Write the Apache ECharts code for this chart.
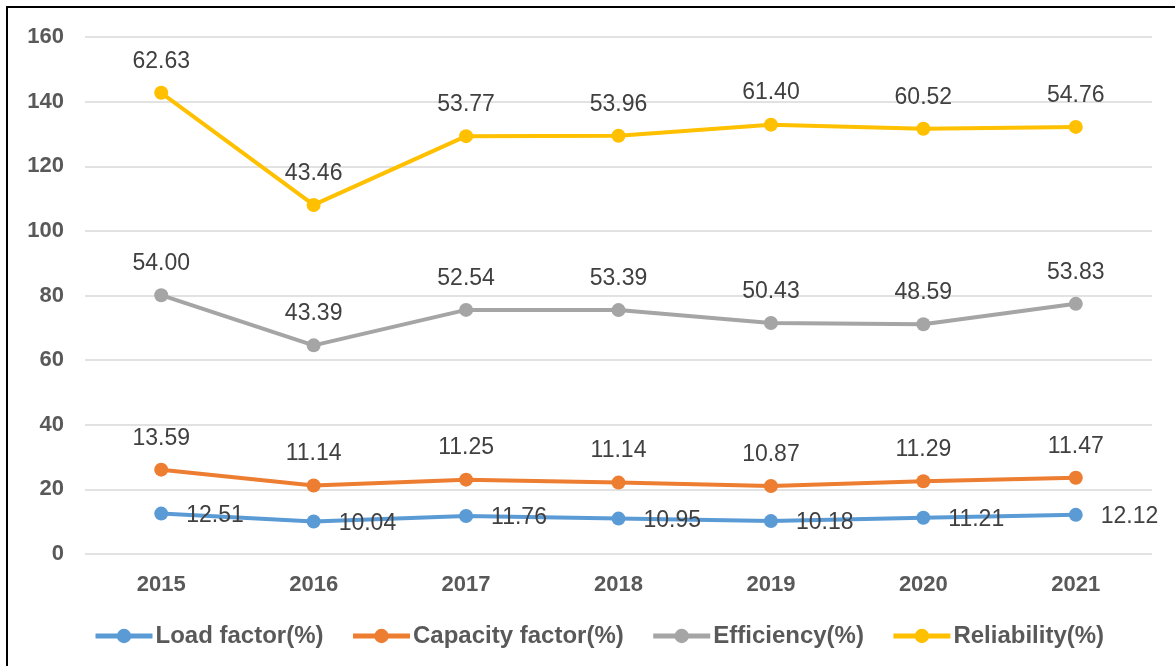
<!DOCTYPE html>
<html>
<head>
<meta charset="utf-8">
<script src="https://cdn.jsdelivr.net/npm/echarts@6/dist/echarts.min.js"></script>
<style>
html,body{margin:0;padding:0;background:#fff;}
#frame{position:absolute;left:6px;top:6px;width:1169px;height:660px;border-top:2px solid #000;border-left:2px solid #000;box-sizing:border-box;}
#chart{position:absolute;left:0;top:0;width:1175px;height:666px;}
</style>
</head>
<body>
<div id="chart"></div>
<div id="frame"></div>
<script>
const years = ['2015','2016','2017','2018','2019','2020','2021'];
const loadFactor = [12.51, 10.04, 11.76, 10.95, 10.18, 11.21, 12.12];
const capacityFactor = [13.59, 11.14, 11.25, 11.14, 10.87, 11.29, 11.47];
const efficiency = [54.00, 43.39, 52.54, 53.39, 50.43, 48.59, 53.83];
const reliability = [62.63, 43.46, 53.77, 53.96, 61.40, 60.52, 54.76];
const yTicks = [0, 20, 40, 60, 80, 100, 120, 140, 160];

const font = '"Liberation Sans", Arial, sans-serif';
const chart = echarts.init(document.getElementById('chart'));

function mk(name, data, color, labelPos) {
  const label = {
    show: true,
    fontFamily: font,
    fontSize: 23,
    color: '#404040',
    formatter: p => p.value.toFixed(2)
  };
  if (labelPos === 'right') {
    label.position = 'right';
    label.distance = 18;
    label.offset = [0, 2];
  } else {
    label.position = 'top';
    label.distance = 13;
  }
  return {
    name, type: 'line', stack: 'total', data,
    symbol: 'circle', symbolSize: 14,
    lineStyle: { width: 4, color },
    itemStyle: { color },
    label,
    emphasis: { disabled: true }
  };
}

chart.setOption({
  animation: false,
  grid: { left: 85, right: 23, top: 37, bottom: 112, containLabel: false },
  xAxis: {
    type: 'category', data: years, boundaryGap: true,
    axisLine: { show: false }, axisTick: { show: false },
    axisLabel: { fontFamily: font, fontSize: 22, fontWeight: 'bold', color: '#595959', margin: 20 }
  },
  yAxis: {
    type: 'value', min: yTicks[0], max: yTicks[yTicks.length - 1], interval: 20,
    axisLine: { show: false }, axisTick: { show: false },
    splitLine: { lineStyle: { color: '#d9d9d9', width: 1.5 } },
    axisLabel: { fontFamily: font, fontSize: 22, fontWeight: 'bold', color: '#595959', margin: 21 }
  },
  legend: {
    top: 619, left: 88,
    itemWidth: 57, itemHeight: 18, itemGap: 27,
    lineStyle: { width: 5 },
    textStyle: { fontFamily: font, fontSize: 24, fontWeight: 'bold', color: '#595959', padding: [0, 0, 0, -2] },
    data: ['Load factor(%)', 'Capacity factor(%)', 'Efficiency(%)', 'Reliability(%)']
  },
  series: [
    mk('Load factor(%)', loadFactor, '#5b9bd5', 'right'),
    mk('Capacity factor(%)', capacityFactor, '#ed7d31', 'top'),
    mk('Efficiency(%)', efficiency, '#a5a5a5', 'top'),
    mk('Reliability(%)', reliability, '#ffc000', 'top')
  ]
});
</script>
</body>
</html>
